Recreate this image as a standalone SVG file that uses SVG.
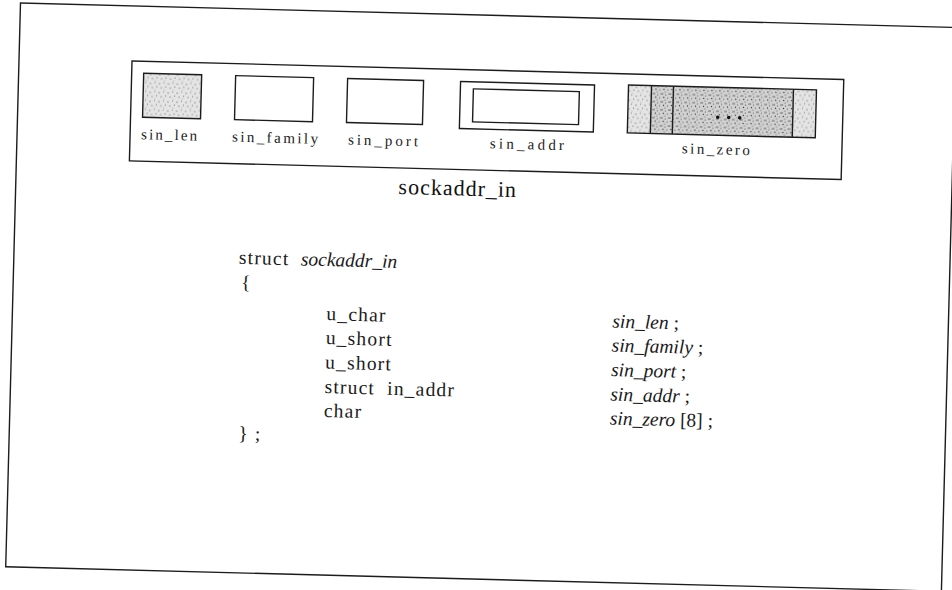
<svg xmlns="http://www.w3.org/2000/svg" width="952" height="590" viewBox="0 0 952 590">
<defs>
<pattern id="stipL" width="9" height="9" patternUnits="userSpaceOnUse">
<rect width="9" height="9" fill="#e4e4e4"/>
<circle cx="1" cy="2" r="0.6" fill="#444"/>
<circle cx="5.5" cy="1" r="0.5" fill="#666"/>
<circle cx="3" cy="6" r="0.6" fill="#555"/>
<circle cx="7.5" cy="5" r="0.5" fill="#444"/>
<circle cx="6" cy="8" r="0.4" fill="#777"/>
</pattern>
<pattern id="stipD" width="8" height="8" patternUnits="userSpaceOnUse">
<rect width="8" height="8" fill="#d2d2d2"/>
<circle cx="1" cy="1" r="0.7" fill="#333"/>
<circle cx="4.5" cy="2" r="0.6" fill="#444"/>
<circle cx="2.5" cy="4.5" r="0.7" fill="#333"/>
<circle cx="6.5" cy="5" r="0.6" fill="#444"/>
<circle cx="4" cy="7" r="0.6" fill="#555"/>
<circle cx="7.5" cy="1" r="0.5" fill="#555"/>
</pattern>
</defs>
<style>
.ln{fill:none;stroke:#1c1c1c;stroke-width:1.4}
.bx{stroke:#1c1c1c;stroke-width:1.4}
.lbl{font-family:"Liberation Serif","DejaVu Serif",serif;font-size:15px;fill:#222;text-anchor:middle}
.code{font-family:"Liberation Serif","DejaVu Serif",serif;font-size:19.5px;fill:#1a1a1a;letter-spacing:1.2px}
.rc{font-family:"Liberation Serif","DejaVu Serif",serif;font-size:19.5px;fill:#1a1a1a}
.it{font-style:italic;letter-spacing:0}
.ttl{font-family:"Liberation Serif","DejaVu Serif",serif;font-size:22px;fill:#111;text-anchor:middle;letter-spacing:1px}
</style>
<rect width="952" height="590" fill="#ffffff"/>
<g transform="rotate(1.5 476 295)">
<rect class="ln" x="13" y="15" width="936" height="564"/>
<g id="sockaddr_in_box">
<rect class="ln" x="126" y="70" width="712" height="100"/>
</g>
<g id="sin_len">
<rect class="bx" x="138" y="82" width="58" height="44" fill="url(#stipL)"/>
<text class="lbl" x="165" y="148" textLength="56" lengthAdjust="spacing">sin_len</text>
</g>
<g id="sin_family">
<rect class="ln" x="230" y="82" width="78" height="44"/>
<text class="lbl" x="271" y="148" textLength="86" lengthAdjust="spacing">sin_family</text>
</g>
<g id="sin_port">
<rect class="ln" x="342" y="82" width="76" height="44"/>
<text class="lbl" x="379" y="148" textLength="70" lengthAdjust="spacing">sin_port</text>
</g>
<g id="sin_addr">
<rect class="ln" x="455" y="82" width="134" height="47"/>
<rect class="ln" x="468" y="89" width="106" height="33"/>
<text class="lbl" x="523" y="148" textLength="74" lengthAdjust="spacing">sin_addr</text>
</g>
<g id="sin_zero">
<rect x="623" y="81" width="188" height="48" fill="url(#stipL)"/>
<rect x="646" y="81" width="22" height="48" fill="url(#stipD)"/>
<rect x="668" y="81" width="120" height="48" fill="url(#stipD)"/>
<rect class="ln" x="623" y="81" width="188" height="48"/>
<path class="ln" d="M646 81V129M668 81V129M788 81V129"/>
<circle cx="713" cy="111" r="1.8" fill="#111"/>
<circle cx="724" cy="111" r="1.8" fill="#111"/>
<circle cx="735" cy="111" r="1.8" fill="#111"/>
<text class="lbl" x="712" y="148" textLength="68" lengthAdjust="spacing">sin_zero</text>
</g>
<g id="title">
<text class="ttl" x="455" y="196">sockaddr_in</text>
</g>
<g id="code">
<text class="code" x="238" y="270">struct</text>
<text class="code it" x="300" y="270">sockaddr_in</text>
<text class="code" x="241" y="295">{</text>
<text class="code" x="327" y="324">u_char</text>
<text class="code" x="327" y="348">u_short</text>
<text class="code" x="327" y="372.5">u_short</text>
<text class="code" x="327" y="397" xml:space="preserve">struct  in_addr</text>
<text class="code" x="327" y="421">char</text>
<text class="code" x="242" y="446">} ;</text>
<text class="rc" x="613" y="324"><tspan class="it">sin_len</tspan> ;</text>
<text class="rc" x="613" y="348"><tspan class="it">sin_family</tspan> ;</text>
<text class="rc" x="613" y="372.5"><tspan class="it">sin_port</tspan> ;</text>
<text class="rc" x="613" y="397"><tspan class="it">sin_addr</tspan> ;</text>
<text class="rc" x="613" y="421"><tspan class="it">sin_zero</tspan> [8] ;</text>
</g>
<g id="connectors"></g>
</g>
</svg>
